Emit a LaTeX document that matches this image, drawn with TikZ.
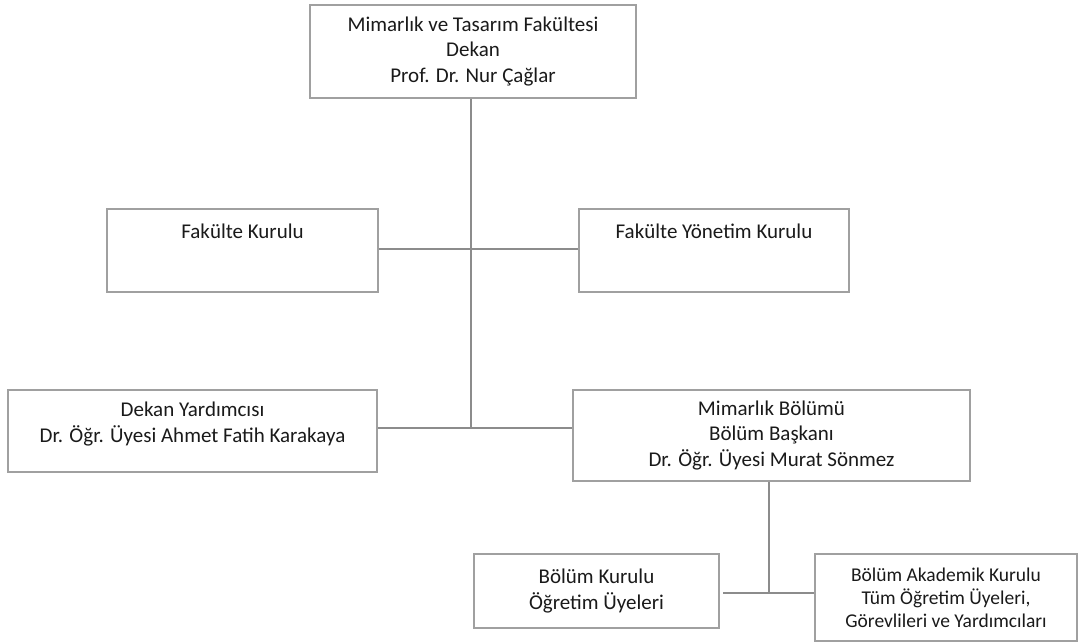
\documentclass[tikz,border=0pt]{standalone}
\usepackage{fontspec}
\setmainfont{Carlito}
\definecolor{boxgray}{HTML}{A0A0A0}
\definecolor{linegray}{HTML}{8C8C8C}
\definecolor{txt}{HTML}{1A1A1A}
\tikzset{
  orgbox/.style={draw=boxgray, line width=1.5pt, fill=white, inner sep=0pt, align=center, text=txt, font=\fontsize{21}{25.5}\selectfont},
  orgtext/.style={inner sep=0pt, align=center, text=txt, font=\fontsize{21}{25.5}\selectfont},
  conn/.style={draw=linegray, line width=1.3pt}
}
\begin{document}
\begin{tikzpicture}[x=1pt,y=-1pt]
\useasboundingbox (0,0) rectangle (1079,643);
% boxes
\node[orgbox, minimum width=326pt, minimum height=93pt] (dekan) at (473,51.5)
  {Mimarlık ve Tasarım Fakültesi\\Dekan\\Prof. Dr. Nur Çağlar};
\node[orgbox, minimum width=271pt, minimum height=83pt] (fk) at (242.5,250.5) {};
\node[orgtext, anchor=center] (fkt) at ([yshift=-23pt]fk.north) {Fakülte Kurulu};
\node[orgbox, minimum width=270pt, minimum height=83pt] (fyk) at (714,250.5) {};
\node[orgtext, anchor=center] (fykt) at ([yshift=-23pt]fyk.north) {Fakülte Yönetim Kurulu};
\node[orgbox, minimum width=369pt, minimum height=82pt] (dy) at (192.5,431) {};
\node[orgtext, anchor=center] (dyt) at ([yshift=-35pt]dy.north) {Dekan Yardımcısı\\Dr. Öğr. Üyesi Ahmet Fatih Karakaya};
\node[orgbox, minimum width=397pt, minimum height=91pt] (mb) at (771.5,435.5)
  {Mimarlık Bölümü\\Bölüm Başkanı\\Dr. Öğr. Üyesi Murat Sönmez};
\node[orgbox, minimum width=245pt, minimum height=74pt] (bk) at (596.5,591)
  {Bölüm Kurulu\\Öğretim Üyeleri};
\node[orgbox, minimum width=262pt, minimum height=87pt, font=\fontsize{19.5}{23}\selectfont] (bak) at (946,597.5)
  {Bölüm Akademik Kurulu\\Tüm Öğretim Üyeleri,\\Görevlileri ve Yardımcıları};
% junction coordinates
\coordinate (j1) at (471,249);
\coordinate (j2) at (471,428);
\coordinate (j3) at (769,593);
\coordinate (bkend) at (723,593);
% connectors
\draw[conn] (dekan.south -| j1) -- (j2);
\draw[conn] (fk.east |- j1) -- (fyk.west |- j1);
\draw[conn] (dy.east |- j2) -- (mb.west |- j2);
\draw[conn] (mb.south -| j3) -- (j3);
\draw[conn] (bkend) -- (bak.west |- j3);
\end{tikzpicture}
\end{document}
